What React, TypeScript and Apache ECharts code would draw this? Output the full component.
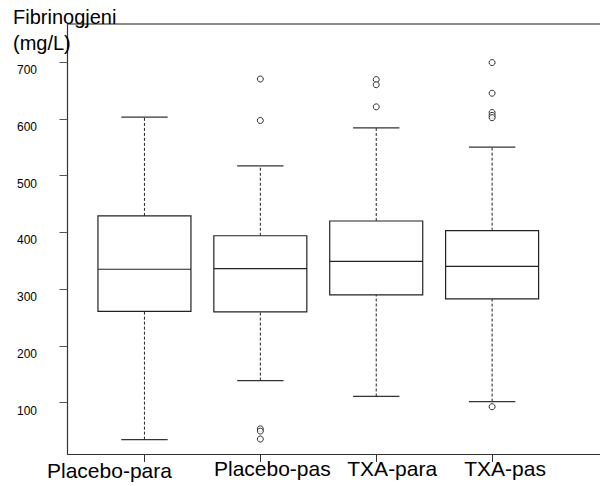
import React, { useEffect, useRef } from 'react';
import * as echarts from 'echarts';

const categories = ['Placebo-para', 'Placebo-pas', 'TXA-para', 'TXA-pas'];
const groupPos = [1, 2, 3, 4];
const whiskerLow = [35, 139, 111, 102];
const q1 = [261, 260, 290, 283];
const median = [335, 336, 349, 340];
const q3 = [429, 394, 420, 403];
const whiskerHigh = [603, 517, 584, 550];
const outliers: number[][] = [
  [],
  [670, 597, 54, 50, 36],
  [669, 660, 621],
  [699, 645, 611, 606, 602, 93],
];
const yTicks = [100, 200, 300, 400, 500, 600, 700];
const yTitle = 'Fibrinogjeni\n(mg/L)';

const FONT = "'Liberation Sans', Arial, sans-serif";

export default function App() {
  const ref = useRef<HTMLDivElement>(null);
  useEffect(() => {
    if (!ref.current) return;
    const chart = echarts.init(ref.current, undefined, { renderer: 'svg' });

    const boxData = groupPos.map((x, i) => [x, q1[i], q1[i], median[i], q3[i], q3[i]]);
    const whiskerData = groupPos.map((x, i) => [x, whiskerLow[i], q1[i], q3[i], whiskerHigh[i]]);
    const outlierData: number[][] = [];
    outliers.forEach((list, i) => list.forEach((v) => outlierData.push([groupPos[i], v])));

    const xMin = 0.336;
    const xMax = 4.931;
    const yMin = 9.7;
    const yMax = 766.9;
    const lineColor = '#333';

    chart.setOption({
      animation: false,
      title: {
        text: yTitle,
        left: 13,
        top: 4,
        padding: 0,
        textStyle: { fontFamily: FONT, fontSize: 20, fontWeight: 'normal', color: '#000', lineHeight: 26 },
      },
      grid: { left: 67.5, right: 0, top: 24, bottom: 32, containLabel: false },
      xAxis: [
        {
          type: 'value',
          min: xMin,
          max: xMax,
          position: 'bottom',
          splitLine: { show: false },
          axisLine: { show: true, lineStyle: { color: lineColor, width: 1 } },
          axisTick: { show: true, length: 8, customValues: groupPos, lineStyle: { color: lineColor } },
          axisLabel: {
            customValues: groupPos,
            margin: 4,
            fontFamily: FONT,
            fontSize: 21,
            color: '#000',
            formatter: (v: number) => {
              const i = Math.round(v) - 1;
              return `{s${i}|${categories[i]}}`;
            },
            rich: {
              s0: { fontFamily: FONT, fontSize: 21, color: '#000', padding: [2, 70, 0, 0] },
              s1: { fontFamily: FONT, fontSize: 21, color: '#000', padding: [0, 0, 0, 24] },
              s2: { fontFamily: FONT, fontSize: 21, color: '#000', padding: [0, 0, 0, 32] },
              s3: { fontFamily: FONT, fontSize: 21, color: '#000', padding: [0, 0, 0, 26] },
            },
          },
        },
        {
          type: 'value',
          min: xMin,
          max: xMax,
          position: 'top',
          splitLine: { show: false },
          axisLine: { show: true, onZero: false, lineStyle: { color: '#666', width: 1.5 } },
          axisTick: { show: false },
          axisLabel: { show: false },
        },
      ],
      yAxis: {
        type: 'value',
        min: yMin,
        max: yMax,
        splitLine: { show: false },
        axisLine: { show: true, lineStyle: { color: lineColor, width: 1.2 } },
        axisTick: { show: true, length: 8, customValues: yTicks, lineStyle: { color: '#555' } },
        axisLabel: {
          customValues: yTicks,
          margin: 30.5,
          fontFamily: FONT,
          fontSize: 12,
          color: '#000',
          formatter: (v: number) => `{t|${v}}`,
          rich: {
            t: { fontFamily: FONT, fontSize: 12, color: '#000', padding: [16, 0, 0, 0] },
          },
        },
      },
      series: [
        {
          type: 'custom',
          xAxisIndex: 0,
          encode: { x: 0, y: [1, 2, 3, 4] },
          data: whiskerData,
          renderItem: (params: any, api: any) => {
            const x = api.value(0);
            const lo = api.coord([x, api.value(1)]);
            const b1 = api.coord([x, api.value(2)]);
            const b3 = api.coord([x, api.value(3)]);
            const hi = api.coord([x, api.value(4)]);
            const half = api.size([1, 0])[0] * 0.2;
            const dash = { stroke: '#222', lineWidth: 1, lineDash: [3, 2], fill: null };
            const solid = { stroke: '#333', lineWidth: 1.2, fill: null };
            return {
              type: 'group',
              children: [
                { type: 'line', shape: { x1: lo[0], y1: lo[1], x2: b1[0], y2: b1[1] }, style: dash },
                { type: 'line', shape: { x1: b3[0], y1: b3[1], x2: hi[0], y2: hi[1] }, style: dash },
                { type: 'line', shape: { x1: lo[0] - half, y1: lo[1], x2: lo[0] + half, y2: lo[1] }, style: solid },
                { type: 'line', shape: { x1: hi[0] - half, y1: hi[1], x2: hi[0] + half, y2: hi[1] }, style: solid },
              ],
            };
          },
        },
        {
          type: 'boxplot',
          xAxisIndex: 0,
          boxWidth: [93, 93],
          data: boxData,
          itemStyle: { color: '#fff', borderColor: '#222', borderWidth: 1.2 },
        },
        {
          type: 'scatter',
          xAxisIndex: 0,
          data: outlierData,
          symbol: 'circle',
          symbolSize: 6,
          itemStyle: { color: '#fff', borderColor: '#000', borderWidth: 1 },
        },
      ],
    });
    return () => chart.dispose();
  }, []);
  return (
    <div
      ref={ref}
      style={{ position: 'absolute', left: 0, top: 0, width: 600, height: 486, background: '#fff' }}
    />
  );
}
